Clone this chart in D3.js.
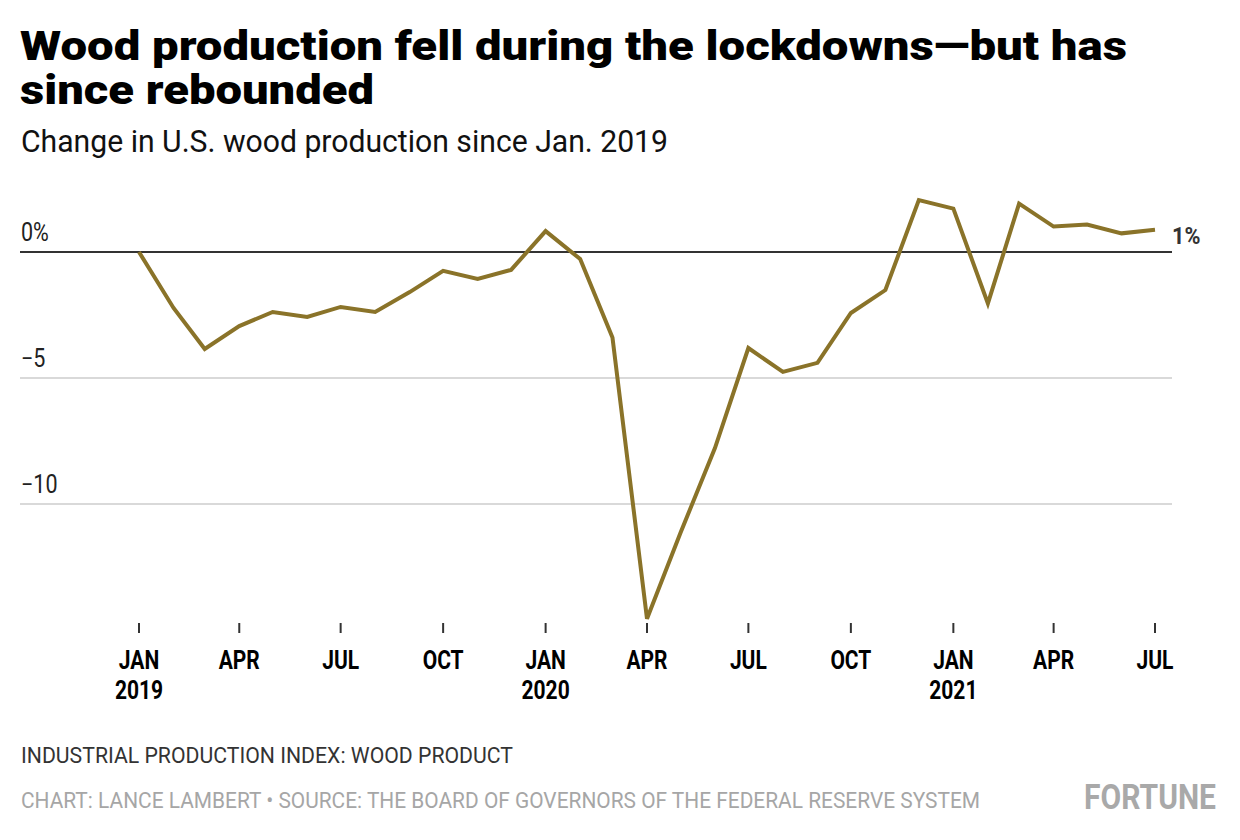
<!DOCTYPE html>
<html><head><meta charset="utf-8">
<script src="https://cdn.jsdelivr.net/npm/d3@7"></script>
<style>
html,body{margin:0;padding:0;background:#fff;}
svg{display:block;}
text{font-family:Roboto,"Noto Sans",sans-serif;}
</style></head>
<body>
<svg id="c" width="1240" height="840"></svg>
<script>
// ---- data ----
const months = ["2019-01","2019-02","2019-03","2019-04","2019-05","2019-06","2019-07","2019-08","2019-09","2019-10","2019-11","2019-12",
"2020-01","2020-02","2020-03","2020-04","2020-05","2020-06","2020-07","2020-08","2020-09","2020-10","2020-11","2020-12",
"2021-01","2021-02","2021-03","2021-04","2021-05","2021-06","2021-07"];
const changePct = [0, -2.22, -3.85, -2.94, -2.38, -2.58, -2.18, -2.38, -1.59, -0.75, -1.07, -0.71,
0.83, -0.28, -3.39, -14.55, -11.15, -7.78, -3.81, -4.76, -4.40, -2.42, -1.51, 2.06,
1.72, -2.04, 1.92, 1.01, 1.09, 0.74, 0.88];
const yTicks = [0, -5, -10];
const yTickLabels = ["0%", "−5", "−10"];
const xTickMonths = ["2019-01","2019-04","2019-07","2019-10","2020-01","2020-04","2020-07","2020-10","2021-01","2021-04","2021-07"];
const xTickLabels = ["JAN","APR","JUL","OCT","JAN","APR","JUL","OCT","JAN","APR","JUL"];
const xTickYears = ["2019","","","","2020","","","","2021","",""];
const endLabel = "1%";
const title1 = "Wood production fell during the lockdowns—but has";
const title2 = "since rebounded";
const subtitle = "Change in U.S. wood production since Jan. 2019";
const note = "INDUSTRIAL PRODUCTION INDEX: WOOD PRODUCT";
const credit = "CHART: LANCE LAMBERT • SOURCE: THE BOARD OF GOVERNORS OF THE FEDERAL RESERVE SYSTEM";
const logo = "FORTUNE";

const parse = d3.timeParse("%Y-%m");
const data = months.map((m,i)=>({date: parse(m), v: changePct[i]}));

const svg = d3.select("#c");
const x = d3.scaleTime().domain([parse("2019-01"), parse("2021-07")]).range([139, 1155]);
const y = d3.scaleLinear().domain([0, -10]).range([252, 504]);

function fit(sel, w){ sel.attr("textLength", w).attr("lengthAdjust","spacingAndGlyphs"); }
function condense(sel, f){ sel.each(function(){ const L=this.getComputedTextLength(); d3.select(this).attr("textLength", L*f).attr("lengthAdjust","spacingAndGlyphs"); }); }

// titles
svg.append("text").attr("x",20).attr("y",60).attr("font-size",41).attr("font-weight",900).attr("fill","#000").text(title1).call(fit,1107);
svg.append("text").attr("x",20).attr("y",104).attr("font-size",41).attr("font-weight",900).attr("fill","#000").text(title2).call(fit,354);
svg.append("text").attr("x",21).attr("y",152).attr("font-size",32).attr("font-weight",400).attr("fill","#111").text(subtitle).call(fit,647);

// gridlines
const grid = svg.append("g");
grid.selectAll("line").data(yTicks).join("line")
  .attr("x1",20).attr("x2",1172)
  .attr("y1",d=>y(d)).attr("y2",d=>y(d))
  .attr("stroke",d=>d===0?"#333":"#cccccc")
  .attr("stroke-width",d=>d===0?2:1.6);
grid.selectAll("text").data(yTicks).join("text")
  .attr("x",21).attr("y",d=>y(d)-11)
  .attr("font-size",25).attr("font-weight",400).attr("fill","#222")
  .text((d,i)=>yTickLabels[i])
  .call(condense,0.86);

// x axis
const xg = svg.append("g");
const xt = xTickMonths.map((m,i)=>({date:parse(m), lab:xTickLabels[i], yr:xTickYears[i]}));
xg.selectAll("line").data(xt).join("line")
  .attr("x1",d=>x(d.date)).attr("x2",d=>x(d.date))
  .attr("y1",623).attr("y2",633)
  .attr("stroke","#333").attr("stroke-width",2);
xg.selectAll("text.m").data(xt).join("text").attr("class","m")
  .attr("x",d=>x(d.date)).attr("y",669).attr("text-anchor","middle")
  .attr("font-size",25).attr("font-weight",700).attr("fill","#000")
  .text(d=>d.lab).call(condense,0.84);
xg.selectAll("text.y").data(xt.filter(d=>d.yr)).join("text").attr("class","y")
  .attr("x",d=>x(d.date)).attr("y",699).attr("text-anchor","middle")
  .attr("font-size",25).attr("font-weight",700).attr("fill","#000")
  .text(d=>d.yr).call(condense,0.84);

// line
const line = d3.line().x(d=>x(d.date)).y(d=>y(d.v));
svg.append("path").datum(data).attr("d",line)
  .attr("fill","none").attr("stroke","#8a7329").attr("stroke-width",4)
  .attr("stroke-linejoin","miter").attr("stroke-linecap","butt");

// end label
const last = data[data.length-1];
svg.append("text").attr("x",1172).attr("y",y(last.v)+14)
  .attr("font-size",24).attr("font-weight",700).attr("fill","#333").text(endLabel).call(condense,0.9);

// footer
svg.append("text").attr("x",21).attr("y",763).attr("font-size",22).attr("font-weight",400).attr("fill","#333").text(note).call(fit,492);
svg.append("text").attr("x",21).attr("y",808).attr("font-size",22).attr("font-weight",400).attr("fill","#a6a6a6").text(credit).call(fit,959);
svg.append("text").attr("x",1084).attr("y",809).attr("font-size",35).attr("font-weight",700).attr("fill","#a9a9a9").text(logo).call(fit,132);
</script>
</body></html>
